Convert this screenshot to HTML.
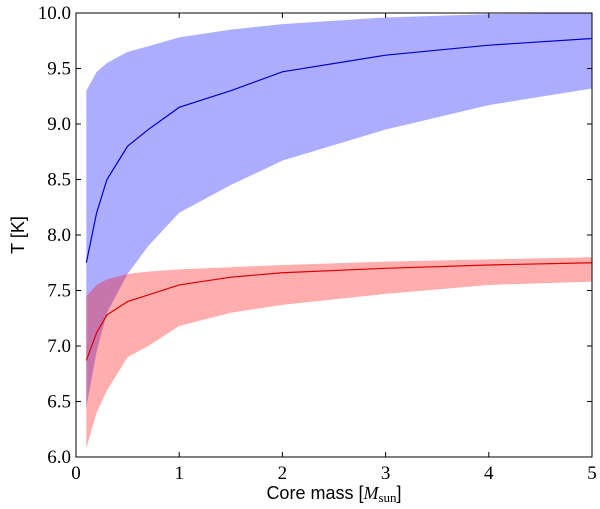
<!DOCTYPE html>
<html><head><meta charset="utf-8"><style>
html,body{margin:0;padding:0;background:#fff;}
svg{display:block;}
.tk{font-family:"Liberation Serif",serif;font-size:19px;fill:#000;}
.lb{font-family:"Liberation Sans",sans-serif;font-size:18px;fill:#000;}
</style></head><body>
<svg id="chart" width="600" height="509">
<g id="plot"></g>
</svg>
<script>
const masses=[0.1,0.2,0.3,0.5,0.7,1,1.5,2,3,4,5];
const blueMean=[7.75,8.2,8.5,8.8,8.95,9.15,9.3,9.47,9.62,9.71,9.77];
const blueUpper=[9.3,9.47,9.55,9.65,9.7,9.78,9.85,9.9,9.96,9.99,10.0];
const blueLower=[6.45,6.95,7.3,7.65,7.9,8.2,8.45,8.67,8.95,9.17,9.32];
const redMean=[6.87,7.12,7.28,7.4,7.46,7.55,7.62,7.66,7.7,7.73,7.75];
const redUpper=[7.45,7.55,7.6,7.65,7.67,7.69,7.71,7.73,7.76,7.78,7.8];
const redLower=[6.08,6.4,6.6,6.9,7.0,7.18,7.3,7.37,7.47,7.55,7.58];
const xTicks=[0,1,2,3,4,5];
const yTicks=[6.0,6.5,7.0,7.5,8.0,8.5,9.0,9.5,10.0];

const L=76,R=592,T=13,B=457;
const sx=v=>L+(v-0)/(5-0)*(R-L);
const sy=v=>B-(v-6)/(10-6)*(B-T);
const NS="http://www.w3.org/2000/svg";
const g=document.getElementById('plot');
function mk(t,a){const e=document.createElementNS(NS,t);for(const k in a)e.setAttribute(k,a[k]);g.appendChild(e);return e;}
function band(up,lo,fill,name){
  let d='M'+masses.map((m,i)=>sx(m)+','+sy(up[i])).join('L');
  for(let i=masses.length-1;i>=0;i--)d+='L'+sx(masses[i])+','+sy(lo[i]);
  const e=mk('path',{d:d+'Z',fill:fill,'fill-opacity':0.32,stroke:'none'});
  
  
}
function line(v,c,name){
  const e=mk('path',{d:'M'+masses.map((m,i)=>sx(m)+','+sy(v[i])).join('L'),fill:'none',stroke:c,'stroke-width':1.2});
  
  
}
band(blueUpper,blueLower,'#0000ff','blue-band');
band(redUpper,redLower,'#ff0000','red-band');
line(blueMean,'#0000cc','blue-mean-line');
line(redMean,'#dd0000','red-mean-line');
const fr=mk('rect',{x:L,y:T,width:R-L,height:B-T,fill:'none',stroke:'#000','stroke-width':1});


xTicks.forEach(v=>{
  mk('line',{x1:sx(v),x2:sx(v),y1:B,y2:B-5,stroke:'#000'});
  mk('line',{x1:sx(v),x2:sx(v),y1:T,y2:T+5,stroke:'#000'});
  const t=mk('text',{x:sx(v),y:B+22,'text-anchor':'middle',class:'tk'});t.textContent=v;
  
  
});
yTicks.forEach(v=>{
  mk('line',{x1:L,x2:L+5,y1:sy(v),y2:sy(v),stroke:'#000'});
  mk('line',{x1:R,x2:R-5,y1:sy(v),y2:sy(v),stroke:'#000'});
  const t=mk('text',{x:L-5,y:sy(v)+6,'text-anchor':'end',class:'tk'});t.textContent=v.toFixed(1);
  
  
});
const xl=mk('text',{x:334,y:499,'text-anchor':'middle',class:'lb'});
xl.innerHTML='Core mass [<tspan font-family="Liberation Serif" font-style="italic">M</tspan><tspan font-family="Liberation Serif" font-size="13" dy="3">sun</tspan><tspan dy="-3">]</tspan>';


const yl=mk('text',{x:0,y:0,'text-anchor':'middle',class:'lb',transform:'translate(24,235) rotate(-90)'});
yl.textContent='T [K]';


</script>
</body></html>
